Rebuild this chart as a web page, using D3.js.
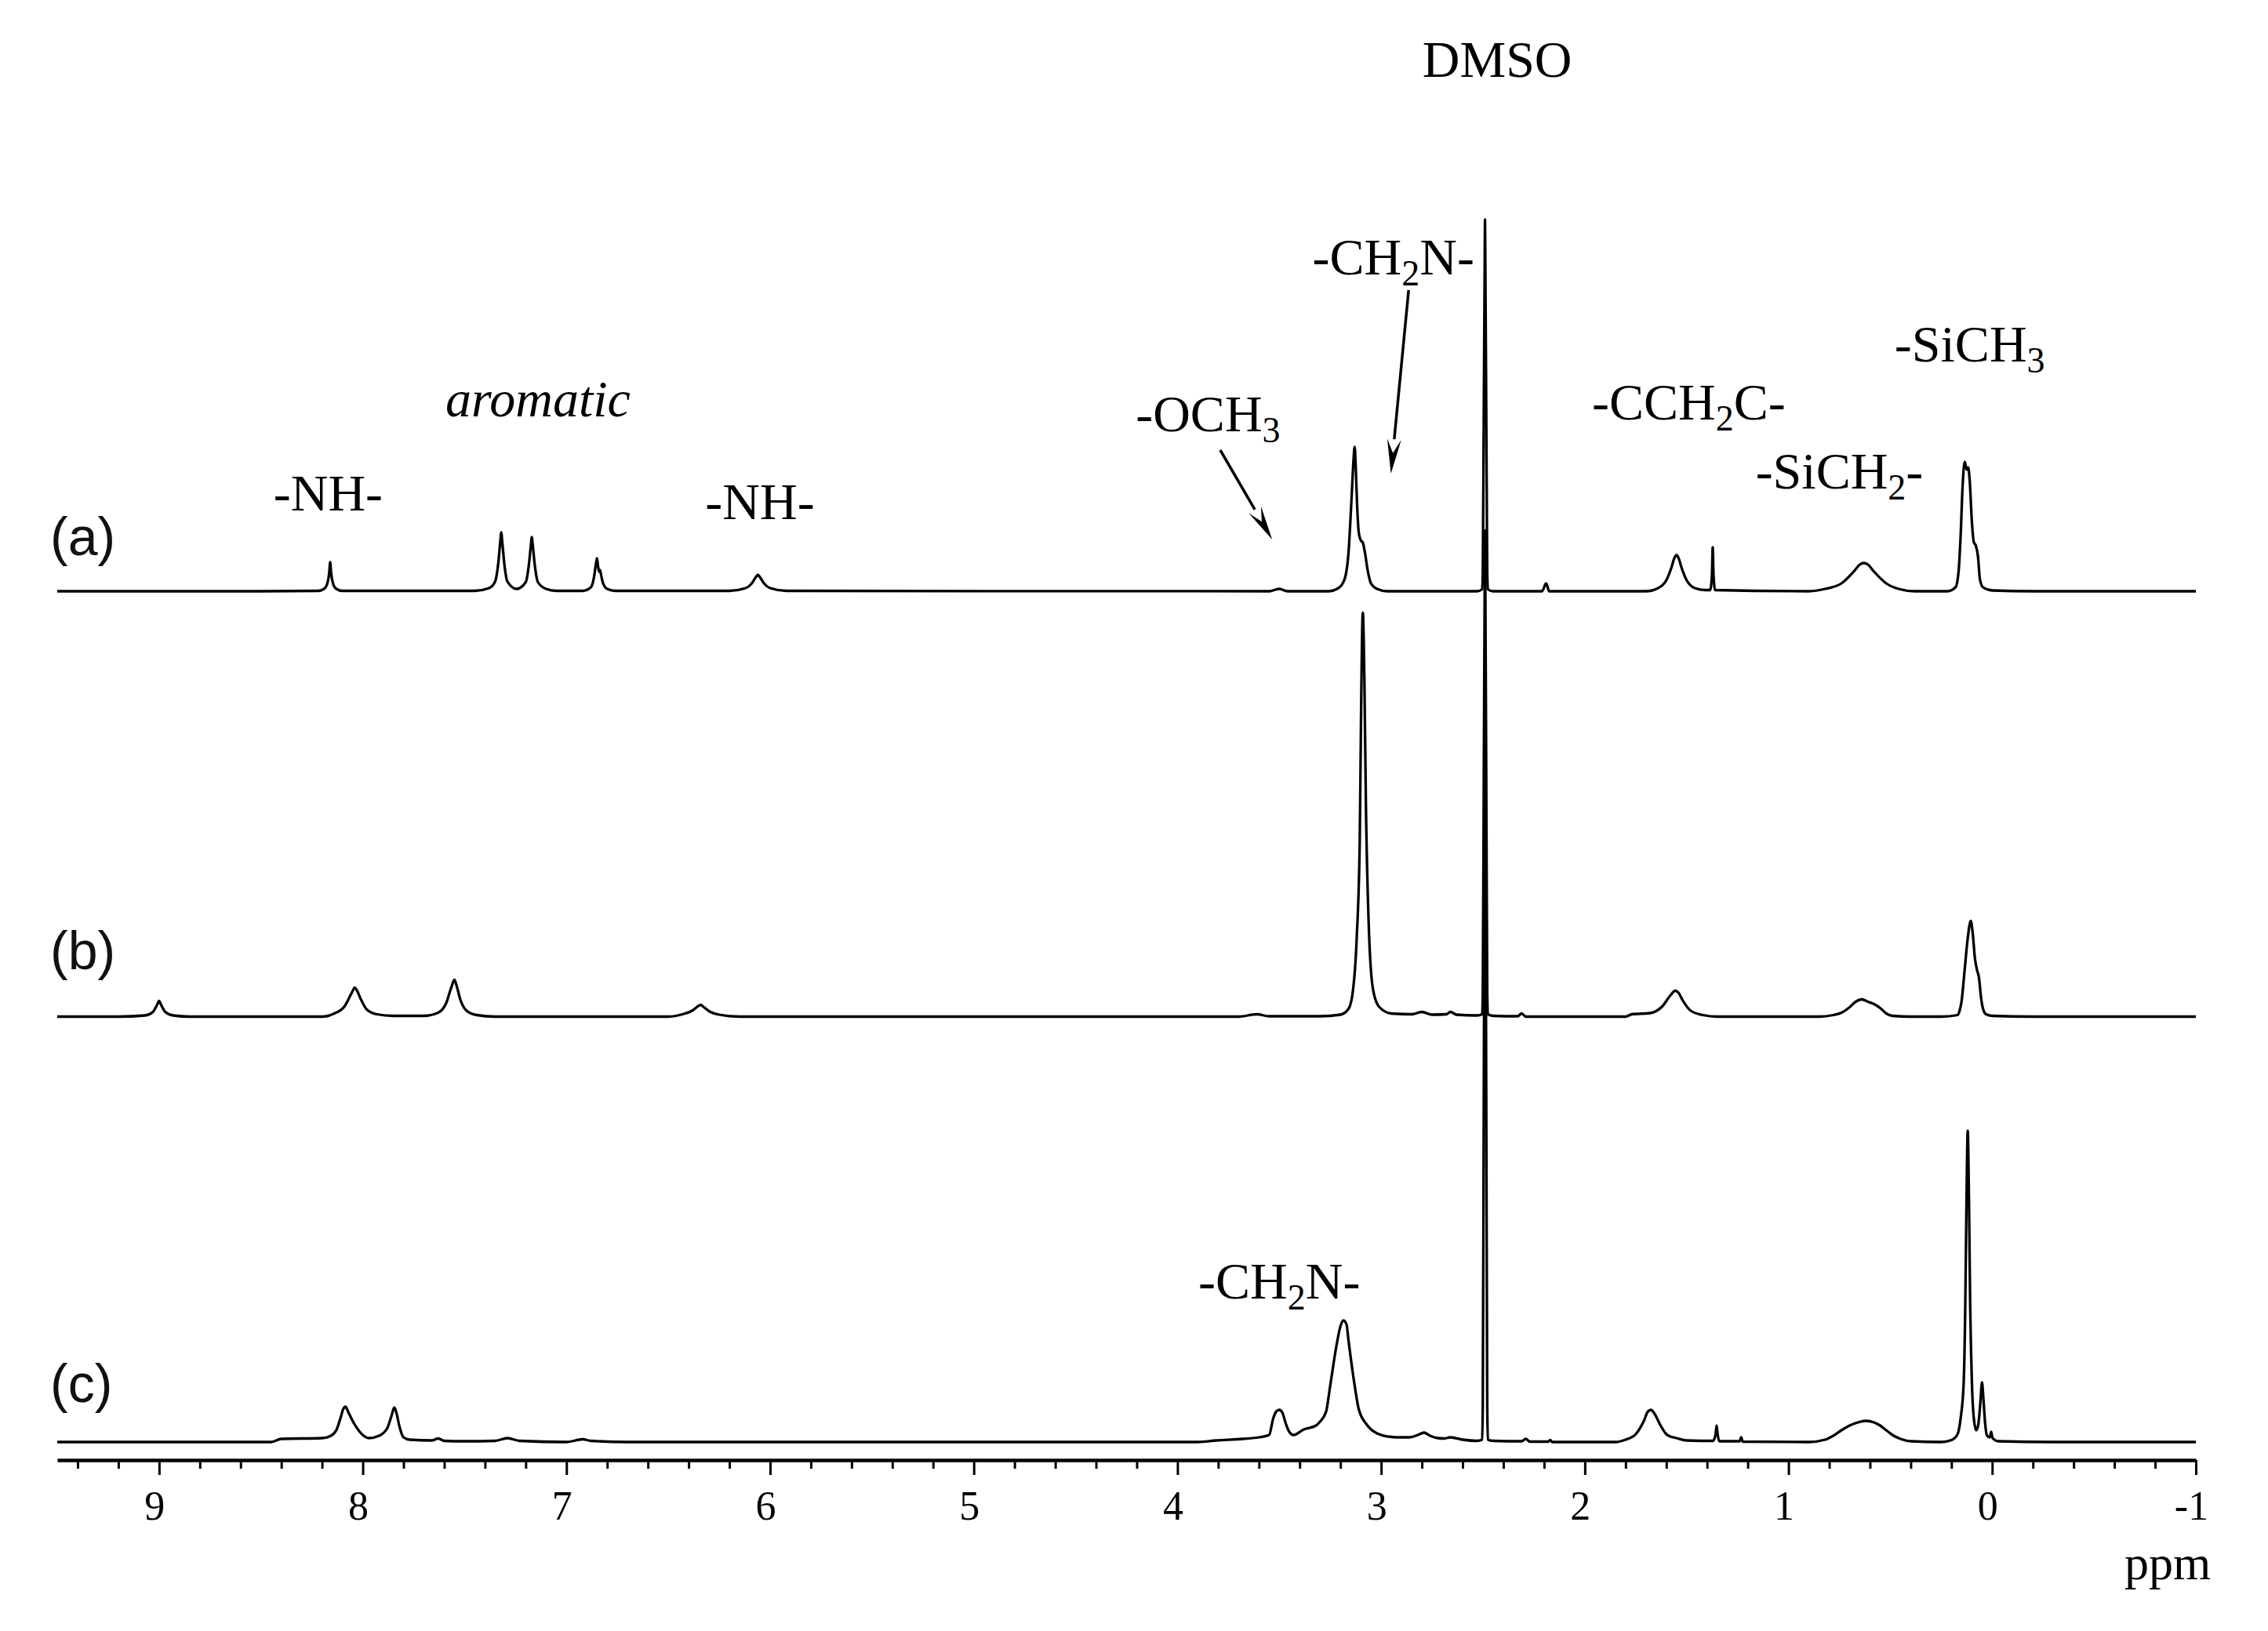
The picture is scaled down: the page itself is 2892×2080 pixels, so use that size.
<!DOCTYPE html>
<html>
<head>
<meta charset="utf-8">
<script src="https://cdn.jsdelivr.net/npm/d3@7"></script>
<style>
  html, body { margin: 0; padding: 0; background: #fff; }
  svg { display: block; }
</style>
</head>
<body>
<svg id="chart" width="2892" height="2080"></svg>
<script>
// ---------- DATA (ppm, intensity in a.u.) ----------
const spectrumKeys = ["a", "b", "c"];
const spectrumLabels = ["(a)", "(b)", "(c)"];

const specA = [
  [9.5,0],[8.5,0],[8.22,0.1],[8.19,0.6],[8.175,1.8],[8.165,4.5],[8.16,7.4],[8.155,4.5],[8.145,1.8],[8.13,0.6],[8.1,0.1],
  [7.45,0.1],[7.38,0.8],[7.35,2.5],[7.335,7],[7.325,12.5],[7.32,15],[7.315,12.5],[7.305,7],[7.29,2.5],
  [7.245,0.6],[7.2,2.3],[7.185,6.5],[7.175,11.5],[7.17,13.8],[7.165,11.5],[7.155,6.5],[7.14,2.3],[7.1,0.6],[7.05,0.1],
  [6.92,0.1],[6.88,1],[6.865,3.5],[6.855,7],[6.85,8.4],[6.845,6.5],[6.84,5],[6.835,5.4],[6.83,4.2],[6.82,2],[6.8,0.6],[6.76,0.1],
  [6.2,0.1],[6.12,0.8],[6.09,2],[6.07,3.6],[6.06,4.2],[6.05,3.6],[6.03,2],[6.0,0.8],[5.92,0.1],
  [3.55,0],[3.5,0.6],[3.46,0],
  [3.26,0],[3.21,0.8],[3.18,3],[3.16,10],[3.145,24],[3.135,34],[3.13,36.8],[3.125,32],[3.118,22],[3.11,15],[3.1,13],[3.09,12.4],[3.08,10],[3.065,5],[3.05,2],[3.02,0.6],[2.97,0],
  [2.53,0],[2.504,0.5],[2.501,4.7],[2.496,47],[2.492,80],[2.49,94.8],[2.488,80],[2.484,47],[2.479,4.7],[2.476,0.5],[2.45,0],
  [2.21,0],[2.19,2],[2.175,0],
  [1.7,0],[1.64,0.8],[1.6,2.8],[1.575,6],[1.56,8.5],[1.55,9.2],[1.54,8.5],[1.525,6],[1.5,2.8],[1.46,0.8],[1.41,0.3],
  [1.385,0.3],[1.376,4],[1.372,11.2],[1.368,4],[1.36,0.3],
  [0.9,0],[0.82,0.6],[0.74,2],[0.68,5],[0.65,6.8],[0.63,7.2],[0.61,6.8],[0.58,5],[0.52,2],[0.46,0.6],[0.38,0],
  [0.22,0],[0.18,1],[0.165,5],[0.155,14],[0.145,27],[0.135,33],[0.125,31],[0.118,31.6],[0.11,28],[0.1,18],[0.09,12.5],[0.08,11.6],[0.07,9],[0.06,3],[0.045,1],[0.0,0.2],[-0.2,0],[-1,0]
];

const specB = [
  [9.5,0],[9.2,0],[9.07,0.3],[9.03,1.2],[9.01,3],[9.0,4],[8.99,3],[8.97,1.2],[8.93,0.3],[8.85,0],
  [8.2,0],[8.14,0.8],[8.09,2.6],[8.06,5.5],[8.045,7],[8.04,7.4],[8.03,6.8],[8.01,4.5],[7.98,1.8],[7.93,0.6],[7.85,0.2],
  [7.7,0.2],[7.63,1],[7.59,3.5],[7.565,7.5],[7.55,9.4],[7.54,8],[7.52,4.2],[7.49,1.5],[7.44,0.4],[7.35,0],
  [6.5,0],[6.43,0.6],[6.38,1.6],[6.35,2.8],[6.34,3],[6.33,2.6],[6.3,1.4],[6.25,0.5],[6.15,0],
  [3.7,0],[3.61,0.6],[3.55,0.1],
  [3.3,0.1],[3.2,0.5],[3.16,2],[3.14,6],[3.12,20],[3.105,45],[3.098,80],[3.09,103],[3.082,85],[3.075,55],[3.06,22],[3.04,7],[3.01,2.5],[2.95,0.8],[2.85,0.6],[2.8,1.2],[2.75,0.5],[2.68,0.6],[2.66,1.2],[2.63,0.5],
  [2.53,0.3],[2.504,0.6],[2.501,6],[2.496,62],[2.492,105],[2.49,124],[2.488,105],[2.484,62],[2.479,6],[2.476,0.6],[2.45,0.2],
  [2.33,0.1],[2.31,0.8],[2.29,0],
  [1.8,0],[1.77,0.6],[1.68,0.9],[1.62,2.6],[1.58,5.4],[1.556,6.6],[1.54,6.1],[1.52,4.2],[1.48,1.5],[1.42,0.4],[1.35,0],
  [0.85,0],[0.78,0.4],[0.74,1],[0.7,2.4],[0.67,3.8],[0.64,4.4],[0.61,3.8],[0.58,3.2],[0.55,2.2],[0.52,0.8],[0.49,0.2],[0.4,0],
  [0.25,0],[0.17,0.4],[0.16,1.5],[0.15,4],[0.135,12],[0.12,20],[0.105,24.4],[0.095,21],[0.085,15],[0.075,12],[0.065,10],[0.055,5],[0.045,2],[0.03,0.6],[0.0,0.2],[-0.2,0],[-1,0]
];

const specC = [
  [9.5,0],[8.45,0],[8.4,0.8],[8.2,1],[8.16,1.5],[8.13,3],[8.11,6],[8.095,8.5],[8.085,9],[8.07,7.5],[8.04,4.5],[8.0,1.8],[7.97,1],[7.92,1.6],[7.88,3.5],[7.86,6.5],[7.845,8.8],[7.835,7.5],[7.82,4],[7.8,1.2],[7.77,0.6],
  [7.66,0.4],[7.63,0.9],[7.6,0.3],[7.5,0.2],[7.35,0.3],[7.29,1],[7.23,0.3],[7.0,0],[6.92,0.7],[6.88,0.3],[6.7,0],
  [3.9,0],[3.81,0.4],[3.68,0.8],[3.6,1.2],[3.55,1.8],[3.53,6],[3.515,7.8],[3.5,8.2],[3.485,7.5],[3.47,5],[3.45,2.5],[3.43,1.8],[3.38,3.2],[3.32,4.2],[3.3,5.2],[3.27,7.8],[3.25,14.4],[3.22,24.4],[3.2,29.5],[3.185,31],[3.17,30],[3.16,25.8],[3.13,14.4],[3.11,8.4],[3.07,4.4],[3.02,2.2],[2.95,1.3],[2.91,1.2],[2.86,1.2],[2.82,1.8],[2.79,2.4],[2.76,1.6],[2.72,1],[2.69,0.9],[2.66,1.2],[2.6,0.6],
  [2.53,0.3],[2.504,0.6],[2.501,9],[2.496,90],[2.492,153],[2.49,180],[2.488,153],[2.484,90],[2.479,9],[2.476,0.6],[2.45,0.3],
  [2.31,0.2],[2.29,0.8],[2.27,0.1],[2.18,0.1],[2.17,0.5],[2.16,0],
  [1.85,0],[1.8,0.6],[1.75,2],[1.71,5.4],[1.69,7.8],[1.675,8.2],[1.66,7.4],[1.63,4.4],[1.6,2],[1.58,1.4],[1.55,1],[1.5,0.4],
  [1.37,0.3],[1.358,2],[1.353,4.2],[1.348,2],[1.34,0.2],[1.24,0.2],[1.232,1.2],[1.225,0.1],
  [0.9,0],[0.82,0.6],[0.78,1.6],[0.74,3],[0.7,4.2],[0.66,5],[0.62,5.4],[0.58,5],[0.55,4.2],[0.52,3],[0.49,1.8],[0.45,0.8],[0.4,0.2],
  [0.25,0],[0.2,0.5],[0.17,2],[0.155,6],[0.14,15],[0.132,35],[0.126,62],[0.12,79.4],[0.114,62],[0.108,35],[0.1,16],[0.09,6],[0.078,3],[0.068,4.5],[0.058,10],[0.05,15.2],[0.043,11],[0.035,5],[0.025,1.6],[0.012,1.2],[0.005,2.6],[-0.002,1],[-0.03,0.2],[-0.3,0],[-1,0]
];

const majorTicks = [9, 8, 7, 6, 5, 4, 3, 2, 1, 0, -1];
const axisTitle = "ppm";

// annotations: text parts [text, isSubscript], ppm anchor
const annotations = [
  { parts: [["DMSO", false]], ppm: 2.43 },
  { parts: [["-CH", false], ["2", true], ["N-", false]], ppm: 2.94 },
  { parts: [["aromatic", false]], ppm: 7.14, italic: true },
  { parts: [["-NH-", false]], ppm: 8.17 },
  { parts: [["-NH-", false]], ppm: 6.05 },
  { parts: [["-OCH", false], ["3", true]], ppm: 3.85 },
  { parts: [["-CCH", false], ["2", true], ["C-", false]], ppm: 1.49 },
  { parts: [["-SiCH", false], ["3", true]], ppm: 0.11 },
  { parts: [["-SiCH", false], ["2", true], ["-", false]], ppm: 0.75 },
  { parts: [["-CH", false], ["2", true], ["N-", false]], ppm: 3.50 }
];
const annotationBaselines = [98, 350, 531, 651, 662, 550, 535, 461, 623, 1656];

// arrows: [fromPpm, toPpm]
const arrows = [
  { from: 2.865, to: 2.952 },
  { from: 3.79, to: 3.535 }
];
const arrowY = [[370, 604], [574, 688]];

// ---------- DRAWING ----------
const svg = d3.select("#chart");
const serif = "'Liberation Serif', 'Times New Roman', serif";
const sans = "'Liberation Sans', Arial, sans-serif";

const x = d3.scaleLinear().domain([9.5, -1]).range([73, 2800]);
const h = d3.scaleLinear().domain([0, 100]).range([0, 500]);
const base = d3.scalePoint().domain(spectrumKeys).range([754, 1839]);

const spectra = { a: specA, b: specB, c: specC };

spectrumKeys.forEach((k, i) => {
  const line = d3.line()
    .x(d => x(d[0]))
    .y(d => base(k) - h(d[1]))
    .curve(d3.curveMonotoneX);
  svg.append("path")
    .datum(spectra[k])
    .attr("d", line)
    .attr("fill", "none")
    .attr("stroke", "#000")
    .attr("stroke-width", 3.3)
    .attr("stroke-linejoin", "round");

  svg.append("text")
    .attr("x", 64)
    .attr("y", base(k) - [46, 61, 51][i])
    .attr("font-family", sans)
    .attr("font-size", 68)
    .attr("fill", "#111")
    .text(spectrumLabels[i]);
});

// axis
const axisY = 1862;
const minorTicks = d3.range(-8, 95, 2).map(v => v / 10).filter(v => !majorTicks.includes(v));

const gMinor = svg.append("g")
  .attr("transform", `translate(0,${axisY})`)
  .call(d3.axisBottom(x).tickValues(minorTicks).tickSize(11).tickSizeOuter(0).tickFormat(""));
gMinor.select(".domain").attr("stroke-width", 4.5).attr("stroke", "#000");
gMinor.selectAll(".tick line").attr("stroke-width", 3).attr("stroke", "#000");

const gMajor = svg.append("g")
  .attr("transform", `translate(0,${axisY})`)
  .call(d3.axisBottom(x).tickValues(majorTicks).tickSize(19).tickSizeOuter(0).tickPadding(20)
    .tickFormat(d => String(d)));
gMajor.select(".domain").remove();
gMajor.selectAll(".tick line").attr("stroke-width", 3).attr("stroke", "#000");
gMajor.selectAll(".tick text")
  .attr("font-family", serif)
  .attr("font-size", 52)
  .attr("fill", "#000")
  .attr("dx", -6);

svg.append("text")
  .attr("x", x(-0.65))
  .attr("y", 2014)
  .attr("font-family", serif)
  .attr("font-size", 62)
  .attr("fill", "#000")
  .text(axisTitle);

// annotations
annotations.forEach((a, i) => {
  const t = svg.append("text")
    .attr("x", x(a.ppm))
    .attr("y", annotationBaselines[i])
    .attr("text-anchor", "middle")
    .attr("font-family", serif)
    .attr("font-size", 66)
    .attr("font-style", a.italic ? "italic" : "normal")
    .attr("fill", "#000");
  let prevSub = false;
  a.parts.forEach(([s, sub]) => {
    const ts = t.append("tspan").text(s);
    if (sub) { ts.attr("font-size", 46).attr("dy", 14); }
    else if (prevSub) { ts.attr("dy", -14); }
    prevSub = sub;
  });
});

// arrows
arrows.forEach((a, i) => {
  const x1 = x(a.from), y1 = arrowY[i][0];
  const x2 = x(a.to), y2 = arrowY[i][1];
  const ang = Math.atan2(y2 - y1, x2 - x1);
  const L = 44, W = 9;
  const bx = x2 - L * Math.cos(ang), by = y2 - L * Math.sin(ang);
  svg.append("line")
    .attr("x1", x1).attr("y1", y1).attr("x2", bx).attr("y2", by)
    .attr("stroke", "#000").attr("stroke-width", 3.5);
  const px = -Math.sin(ang), py = Math.cos(ang);
  svg.append("path")
    .attr("d", `M${x2},${y2} L${bx + W * px},${by + W * py} L${bx + 0.4 * L * Math.cos(ang)},${by + 0.4 * L * Math.sin(ang)} L${bx - W * px},${by - W * py} Z`)
    .attr("fill", "#000");
});
</script>
</body>
</html>
